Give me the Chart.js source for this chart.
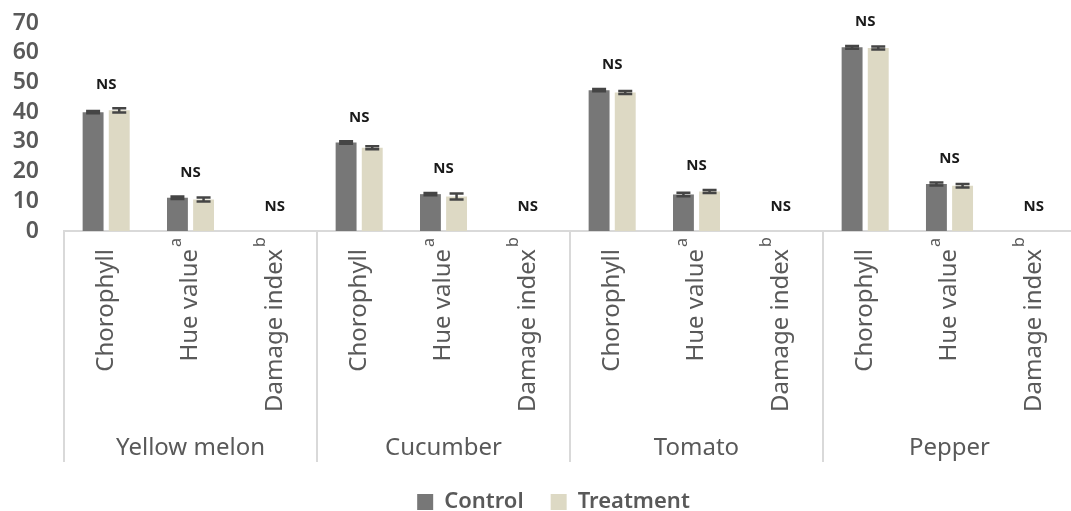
<!DOCTYPE html>
<html>
<head>
<meta charset="utf-8">
<script src="https://cdn.jsdelivr.net/npm/chart.js@4"></script>
<style>
  html, body { margin: 0; padding: 0; background: #fff; overflow: hidden; }
  #wrap { width: 1078px; height: 511px; }
</style>
</head>
<body>
<div id="wrap"><canvas id="myChart"></canvas></div>
<script>
// crops and the three measures shown for each
const groups = ['Yellow melon', 'Cucumber', 'Tomato', 'Pepper'];
const measures = ['Chorophyll', 'Hue value', 'Damage index'];
const measureMarks = ['', 'a', 'b'];

// values per bar (group x measure order)
const controlValues   = [40.0, 11.2, 0,   29.8, 12.4, 0,   47.4, 12.3, 0,   61.8, 15.8, 0];
const treatmentValues = [40.6, 10.6, 0,   28.0, 11.6, 0,   46.6, 13.3, 0,   61.6, 15.2, 0];
const controlErrors   = [0.4, 0.4, 0,     0.4, 0.4, 0,     0.4, 0.6, 0,     0.5, 0.5, 0];
const treatmentErrors = [0.7, 0.7, 0,     0.5, 1.0, 0,     0.5, 0.5, 0,     0.5, 0.6, 0];
const signifLabels    = ['NS', 'NS', 'NS', 'NS', 'NS', 'NS', 'NS', 'NS', 'NS', 'NS', 'NS', 'NS'];

const yTicks = [0, 10, 20, 30, 40, 50, 60, 70];

const TEXT = '#595959';
const FONT = "'Noto Sans', 'Open Sans', sans-serif";

// one label per bar pair
const labels = [];
groups.forEach(g => measures.forEach(m => labels.push(g + ' ' + m)));

const errorBars = {
    id: 'errorBars',
    afterDatasetsDraw(chart) {
        const ctx = chart.ctx;
        const y = chart.scales.y;
        const errs = [controlErrors, treatmentErrors];
        chart.data.datasets.forEach((ds, di) => {
            const meta = chart.getDatasetMeta(di);
            meta.data.forEach((bar, i) => {
                const v = ds.data[i];
                const e = errs[di][i];
                if (!v) return;
                const yHi = y.getPixelForValue(v + e);
                const yLo = y.getPixelForValue(v - e);
                const half = 7;
                ctx.save();
                ctx.strokeStyle = '#454545';
                ctx.lineWidth = 2.5;
                ctx.beginPath();
                ctx.moveTo(bar.x, yHi); ctx.lineTo(bar.x, yLo);
                ctx.moveTo(bar.x - half, yHi); ctx.lineTo(bar.x + half, yHi);
                ctx.moveTo(bar.x - half, yLo); ctx.lineTo(bar.x + half, yLo);
                ctx.stroke();
                ctx.restore();
            });
        });
    }
};

// legend sits centred under the plot area rather than the full canvas
const legendShift = {
    id: 'legendShift',
    afterLayout(chart) {
        if (chart.legend) chart.legend.left += 31;
    }
};

const axisDecor = {
    id: 'axisDecor',
    afterDraw(chart) {
        const ctx = chart.ctx;
        const x = chart.scales.x;
        const y = chart.scales.y;
        const area = chart.chartArea;
        const half = (x.getPixelForValue(1) - x.getPixelForValue(0)) / 2;

        // group separators
        ctx.save();
        ctx.strokeStyle = '#d9d9d9';
        ctx.lineWidth = 2;
        for (let g = 0; g < groups.length; g++) {
            const sx = Math.round(x.getPixelForValue(g * measures.length) - half);
            ctx.beginPath();
            ctx.moveTo(sx, area.bottom);
            ctx.lineTo(sx, 462);
            ctx.stroke();
        }
        ctx.restore();

        // rotated measure labels with superscripts
        ctx.save();
        ctx.fillStyle = TEXT;
        labels.forEach((lab, i) => {
            const m = i % measures.length;
            const px = x.getPixelForValue(i);
            ctx.save();
            ctx.translate(px, area.bottom + 18);
            ctx.rotate(-Math.PI / 2);
            ctx.font = '24px ' + FONT;
            ctx.textAlign = 'right';
            ctx.textBaseline = 'middle';
            ctx.fillText(measures[m], 0, 0);
            if (measureMarks[m]) {
                ctx.font = '16px ' + FONT;
                ctx.textAlign = 'left';
                ctx.fillText(measureMarks[m], 2, -14);
            }
            ctx.restore();
        });

        // group names
        ctx.font = '24px ' + FONT;
        ctx.textAlign = 'center';
        ctx.textBaseline = 'middle';
        groups.forEach((g, gi) => {
            const first = x.getPixelForValue(gi * measures.length);
            const last = x.getPixelForValue(gi * measures.length + measures.length - 1);
            ctx.fillText(g, (first + last) / 2, 448);
        });
        ctx.restore();

        // significance marks above each pair
        ctx.save();
        ctx.fillStyle = '#1a1a1a';
        ctx.font = 'bold 15px ' + FONT;
        ctx.textAlign = 'center';
        ctx.textBaseline = 'middle';
        signifLabels.forEach((s, i) => {
            const top = Math.max(controlValues[i] + controlErrors[i], treatmentValues[i] + treatmentErrors[i]);
            ctx.fillText(s, x.getPixelForValue(i), y.getPixelForValue(top) - 24);
        });
        ctx.restore();
    }
};

const ctx = document.getElementById('myChart').getContext('2d');
new Chart(ctx, {
    type: 'bar',
    data: {
        labels: labels,
        datasets: [{
            label: 'Control',
            data: controlValues,
            backgroundColor: '#777777',
            borderWidth: 0
        }, {
            label: 'Treatment',
            data: treatmentValues,
            backgroundColor: '#ddd9c4',
            borderWidth: 0
        }]
    },
    options: {
        responsive: true,
        maintainAspectRatio: false,
        animation: false,
        categoryPercentage: 0.62,
        barPercentage: 0.8,
        layout: { padding: { top: 23, right: 2, left: 0, bottom: -12 } },
        plugins: {
            tooltip: { enabled: false },
            legend: {
                position: 'bottom',
                labels: {
                    boxWidth: 16,
                    boxHeight: 16,
                    padding: 27,
                    color: TEXT,
                    font: { family: FONT, size: 22, weight: '600' }
                }
            }
        },
        scales: {
            x: {
                ticks: { display: false },
                grid: { display: false },
                border: { display: true, color: '#d9d9d9', width: 2 },
                afterFit(scale) { scale.height = 233; }
            },
            y: {
                min: 0,
                max: 70,
                afterBuildTicks(scale) { scale.ticks = yTicks.map(v => ({ value: v })); },
                ticks: {
                    autoSkip: false,
                    padding: 25,
                    color: TEXT,
                    font: { family: FONT, size: 23, weight: '600' }
                },
                grid: { display: false, drawTicks: false },
                border: { display: false },
                afterFit(scale) {
                    scale.width = 64;
                    scale.paddingTop = 12;
                    scale.paddingBottom = 12;
                }
            }
        }
    },
    plugins: [errorBars, legendShift, axisDecor]
});
</script>
</body>
</html>
